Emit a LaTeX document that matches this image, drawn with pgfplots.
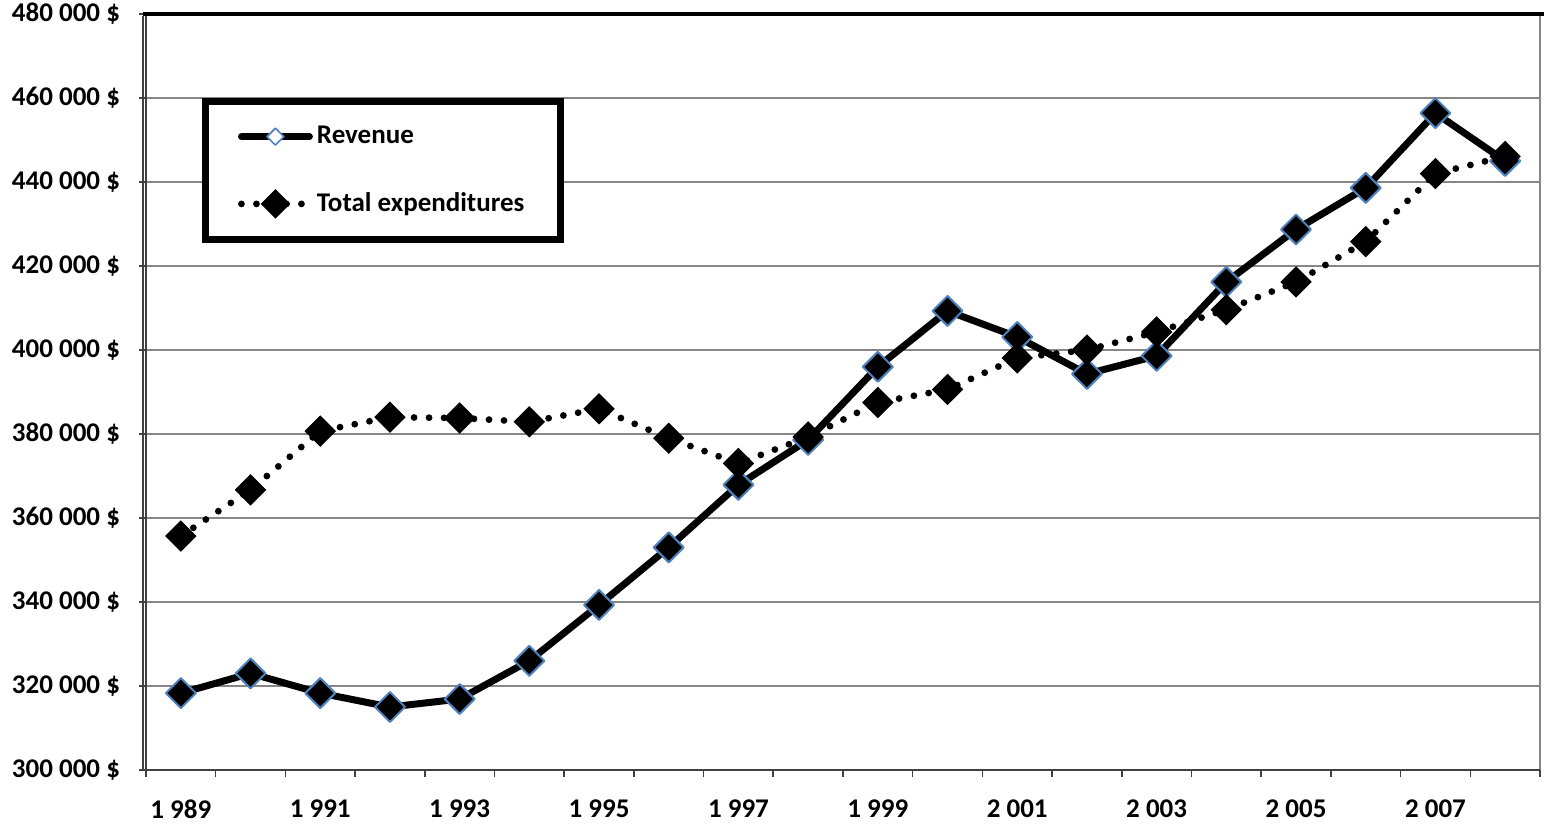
\documentclass[border=0pt]{standalone}
\usepackage{fontspec}
\setmainfont{Carlito}
\usepackage{pgfplots}
\pgfplotsset{compat=1.18}
\definecolor{gridgray}{HTML}{868686}
\definecolor{revedge}{HTML}{4F81BD}
\definecolor{axisgray}{HTML}{404040}

% year index: 0 = 1989 ... 19 = 2008
\pgfplotstableread{
idx revenue expend
0  318300 355700
1  323000 366700
2  318300 380700
3  315000 384000
4  316900 383800
5  326000 382900
6  339300 386000
7  353000 379000
8  367900 373000
9  378600 379300
10 396000 387500
11 409300 390600
12 403100 398100
13 394300 400000
14 398600 404300
15 416200 409600
16 428700 416200
17 438600 425800
18 456400 442000
19 445000 446100
}\budget

\begin{document}
\begin{tikzpicture}
\useasboundingbox (-73pt,-28pt) rectangle (699pt,385pt);
\begin{axis}[
  at={(0,0)}, anchor=south west,
  scale only axis, width=697pt, height=378pt,
  xmin=-0.5, xmax=19.5, ymin=300000, ymax=480000,
  axis line style={draw=none},
  tick pos=left,
  tick align=outside,
  major tick length=3.5pt,
  tick style={axisgray, line width=0.8pt},
  xtick={-0.5,0.5,...,19.5}, xticklabels={},
  extra x ticks={0,2,...,18},
  extra x tick labels={1 989,1 991,1 993,1 995,1 997,1 999,2 001,2 003,2 005,2 007},
  extra x tick style={major tick length=0pt, xticklabel style={yshift=-11.5pt}},
  ytick={300000,320000,...,480000},
  yticklabels={300 000 \$,320 000 \$,340 000 \$,360 000 \$,380 000 \$,400 000 \$,420 000 \$,440 000 \$,460 000 \$,480 000 \$},
  yticklabel style={xshift=-6pt},
  ticklabel style={font=\fontsize{13.5}{16}\selectfont\bfseries},
  scaled ticks=false,
  ymajorgrids, grid style={gridgray, line width=0.75pt},
  legend cell align=left,
  legend style={
    at={(0.0405,0.889)}, anchor=north west,
    draw=black, line width=3.5pt, fill=white,
    inner xsep=16pt, inner ysep=10.5pt,
    row sep=19pt,
    font=\fontsize{13.5}{16}\selectfont\bfseries,
    /tikz/every even column/.append style={column sep=2.5pt},
  },
]
\addplot[black, line width=3.5pt, line join=round,
  mark=square*, mark size=5.3pt,
  mark options={rotate=45, fill=black, draw=revedge, line width=1pt, solid},
  legend image code/.code={
    \draw[line width=3.5pt, line cap=round, solid] (0pt,0pt) -- (34pt,0pt);
    \draw[mark=square*, mark size=3pt, mark options={rotate=45, fill=white, draw=revedge, line width=0.8pt, solid}]
      plot coordinates {(17pt,0pt)};
  }]
  table[x=idx, y=revenue] {\budget};
\addlegendentry{Revenue}
\addplot[black, line width=3.4pt, line cap=round, dash pattern=on 0pt off 7.5pt,
  mark=square*, mark size=5.3pt,
  mark options={rotate=45, fill=black, draw=black, line width=0.5pt, solid},
  legend image code/.code={
    \draw[line width=3.4pt, line cap=round, dash pattern=on 0pt off 7.5pt] (0pt,0pt) -- (34pt,0pt);
    \draw[mark=square*, mark size=3.5pt, mark options={rotate=45, fill=black, draw=black, solid}]
      plot coordinates {(17pt,0pt)};
  }]
  table[x=idx, y=expend] {\budget};
\addlegendentry{Total expenditures}
\end{axis}
% plot-area frame
\draw[black, line width=2pt] (-1.5pt,378pt) -- (699pt,378pt);
\draw[axisgray, line width=0.7pt] (0pt,0pt) -- (0pt,377pt);
\draw[axisgray, line width=0.7pt] (-1.5pt,0pt) -- (-1.5pt,377pt);
\draw[gridgray, line width=0.75pt] (697pt,0pt) -- (697pt,377pt);
\draw[axisgray, line width=1pt] (-1.5pt,0pt) -- (697pt,0pt);
\end{tikzpicture}
\end{document}
